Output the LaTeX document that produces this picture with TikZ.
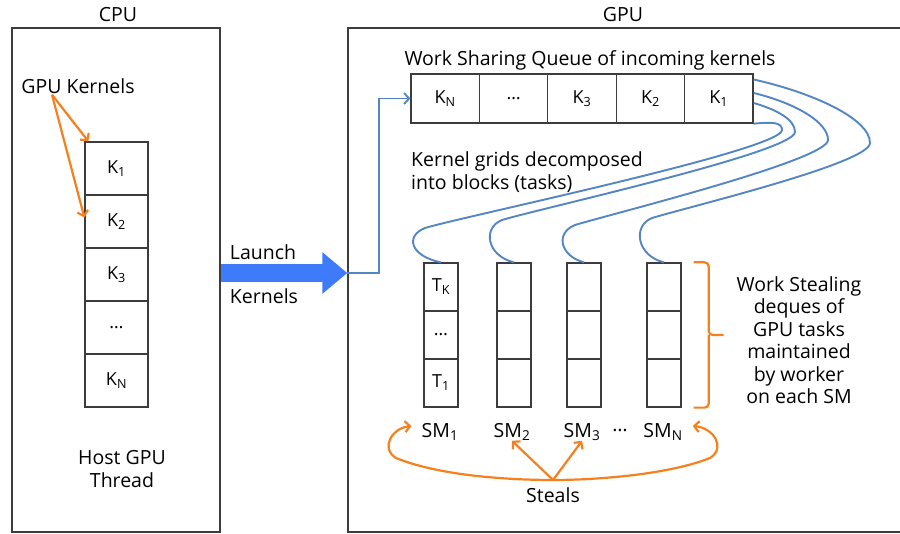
\documentclass[tikz,border=0pt]{standalone}
\usepackage{fontspec}
\setmainfont{Open Sans}
\usetikzlibrary{arrows.meta}

\definecolor{boxgray}{RGB}{60,60,60}
\definecolor{linkblue}{RGB}{84,134,196}
\definecolor{stealorange}{RGB}{247,128,30}
\definecolor{launchblue}{RGB}{62,123,250}

\tikzset{
  cell/.style={draw=boxgray, line width=1.3pt, inner sep=0pt, font=\fontsize{18}{20}\selectfont},
  kcell/.style={cell, minimum width=63pt, minimum height=53pt},
  qcell/.style={cell, minimum width=68.4pt, minimum height=49pt},
  tcell/.style={cell, minimum width=34pt, minimum height=48pt},
  lbl/.style={font=\fontsize{19.5}{22.5}\selectfont, inner sep=0pt},
  hostbox/.style={draw=boxgray, line width=1.3pt, inner sep=0pt, minimum height=504pt},
  bluelink/.style={draw=linkblue, line width=1.9pt},
  orangeline/.style={draw=stealorange, line width=2.2pt},
}

\begin{document}
\begin{tikzpicture}[x=1pt, y=-1pt, >={Straight Barb[length=5pt,width=11pt]}]
  \useasboundingbox (0,0) rectangle (900,534);

  % the two processors
  \node[hostbox, minimum width=208pt] (cpu) at (116,280) {};
  \node[hostbox, minimum width=557pt] (gpu) at (626.5,280) {};
  \node[lbl] (cpulabel) at (118,15) {CPU};
  \node[lbl] (gpulabel) at (623,15) {GPU};

  % host side kernel list
  \foreach \t [count=\n] in {K\textsubscript{1},K\textsubscript{2},K\textsubscript{3},…,K\textsubscript{N}}
    \node[kcell] (k\n) at (116.5,{115.5+53*\n}) {\t};
  \node[lbl] (gk) at (78,86) {GPU Kernels};
  \coordinate (gkfoot) at ([xshift=-26pt,yshift=-1pt]gk.south);
  \draw[orangeline,->] (gkfoot) -- ([xshift=4pt]k1.north west);
  \draw[orangeline,->] (gkfoot) -- ([yshift=4pt]k2.west);
  \node[lbl, align=center] (host) at (122,469) {Host GPU\\Thread};

  % launch
  \coordinate (launchtip) at (gpu.west |- 0,273);
  \draw[draw=launchblue, line width=18pt, -{Triangle[length=25pt,width=40pt]}]
    (cpu.east |- 0,273) -- (launchtip);
  \node[lbl] (launchtxt) at (263,252) {Launch};
  \node[lbl] (kernelstxt) at (264,296) {Kernels};

  % queue of incoming kernels
  \node[lbl] (wsq) at (590,60) {Work Sharing Queue of incoming kernels};
  \foreach \t [count=\n] in {K\textsubscript{N},…,K\textsubscript{3},K\textsubscript{2},K\textsubscript{1}}
    \node[qcell] (q\n) at ({376.8+68.4*\n},98.5) {\t};
  \draw[bluelink,->] (launchtip) -- ++(32,0) |- (q1.west);
  \node[lbl, align=left, anchor=west] (gridnote) at (411,172) {Kernel grids decomposed\\into blocks (tasks)};

  % deques, one per SM
  \foreach \t [count=\r] in {T\textsubscript{K},…,T\textsubscript{1}}
    \node[tcell] (d1\r) at (441,{239+48*\r}) {\t};
  \foreach \x [count=\c from 2] in {514,584,664}
    \foreach \r in {1,2,3}
      \node[tcell] (d\c\r) at (\x,{239+48*\r}) {};
  \foreach \x/\n [count=\c] in {440/1,512/2,582/3,663/N}
    \node[lbl] (sm\c) at (\x,432) {SM\textsubscript{\n}};
  \node[lbl] (smdots) at (620,430) {…};

  % kernels split into blocks
  \draw[bluelink] ([yshift=19pt]q5.east) .. controls (810,92) and (870,118) .. (870,143)
    .. controls (870,163) and (692,206) .. (652,218)
    .. controls (632,226) and (637,256) .. (d41.north);
  \draw[bluelink] ([yshift=5.5pt]q5.east) .. controls (795,103) and (828,122) .. (828,140)
    .. controls (828,160) and (615,213) .. (575,225)
    .. controls (555,233) and (560,256) .. (d31.north);
  \draw[bluelink] ([yshift=-4.5pt]q5.east) .. controls (778,110) and (795,120) .. (795,132)
    .. controls (795,152) and (542,208) .. (502,220)
    .. controls (482,228) and (487,256) .. (d21.north);
  \draw[bluelink] (q5.south east) .. controls (772,122) and (782,122) .. (782,130)
    .. controls (782,150) and (465,216) .. (425,228)
    .. controls (405,236) and (410,256) .. (d11.north);

  % bracket and note
  \draw[orangeline, rounded corners=4pt] ([xshift=12pt]d41.north east) -| ([xshift=27pt]d42.east) -- ++(15,0);
  \draw[orangeline, rounded corners=4pt] ([xshift=12pt]d43.south east) -| ([xshift=27pt]d42.east);
  \node[lbl, align=center] (wsnote) at (799,340) {Work Stealing\\deques of\\GPU tasks\\maintained\\by worker\\on each SM};

  % steals
  \node[lbl] (steals) at (553,495) {Steals};
  \coordinate (stealfork) at ([yshift=15pt]steals.center);
  \draw[orangeline,<->] ([xshift=-10pt,yshift=6pt]sm1.west) .. controls (392,428) and (380,448) .. (396,458)
    .. controls (440,476) and (510,480) .. (stealfork)
    .. controls (600,480) and (670,474) .. (710,458)
    .. controls (726,448) and (714,428) .. ([xshift=10pt,yshift=6pt]sm4.east);
  \draw[orangeline,->] (stealfork) -- (sm2.south);
  \draw[orangeline,->] (stealfork) -- (sm3.south);
\end{tikzpicture}
\end{document}
